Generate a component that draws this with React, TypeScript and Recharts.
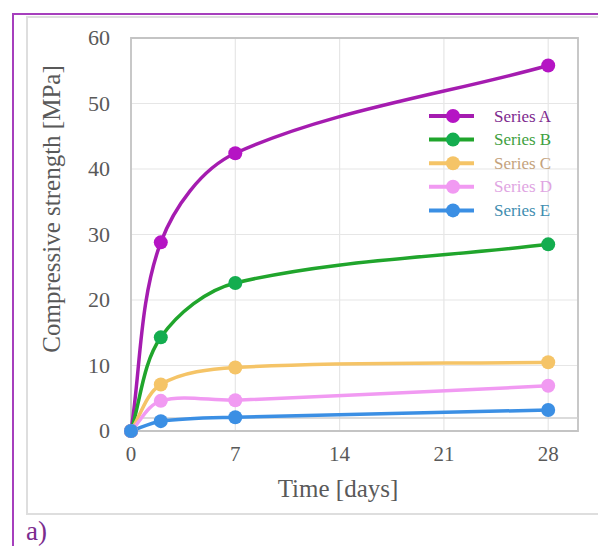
import React from 'react';
import {
  LineChart,
  Line,
  XAxis,
  YAxis,
  CartesianGrid,
  ReferenceArea,
  ReferenceLine,
} from 'recharts';

// curing time, days
const days = [0, 2, 7, 28];

// compressive strength, MPa
const seriesA = [0, 28.8, 42.4, 55.8];
const seriesB = [0, 14.3, 22.6, 28.5];
const seriesC = [0, 7.1, 9.7, 10.5];
const seriesD = [0, 4.6, 4.7, 6.9];
const seriesE = [0, 1.5, 2.1, 3.2];

const seriesNames = ['Series A', 'Series B', 'Series C', 'Series D', 'Series E'];
const xTicks = [0, 7, 14, 21, 28];
const yTicks = [0, 10, 20, 30, 40, 50, 60];

const lineColors = ['#a51cb0', '#20a52c', '#f5c467', '#f19af2', '#3b8fe4'];
const dotColors = ['#b514c4', '#14ad4f', '#f5c467', '#f19af2', '#3b8fe4'];
const textColors = ['#7e2a8e', '#3f9f3f', '#c4a27c', '#e0a5e2', '#3f8db0'];

const FONT = '"Liberation Serif", "Times New Roman", serif';

const allSeries = [seriesA, seriesB, seriesC, seriesD, seriesE];

const data = days.map((d, i) => {
  const row: Record<string, number> = { day: d };
  seriesNames.forEach((name, k) => {
    row[name] = allSeries[k][i];
  });
  return row;
});

// smoothed line like a spreadsheet: tangent from neighbours,
// handle length taken from the segment itself so no cusps appear
function smoothCurve(context: any) {
  let pts: number[][] = [];
  const tangent = (i: number) => {
    const a = pts[i - 1] || pts[i];
    const b = pts[i + 1] || pts[i];
    const dx = b[0] - a[0];
    const dy = b[1] - a[1];
    const len = Math.hypot(dx, dy) || 1;
    return [dx / len, dy / len];
  };
  return {
    areaStart() {},
    areaEnd() {},
    lineStart() {
      pts = [];
    },
    point(x: number, y: number) {
      pts.push([+x, +y]);
    },
    lineEnd() {
      if (!pts.length) return;
      context.moveTo(pts[0][0], pts[0][1]);
      for (let i = 0; i < pts.length - 1; i++) {
        const p1 = pts[i];
        const p2 = pts[i + 1];
        const h = Math.hypot(p2[0] - p1[0], p2[1] - p1[1]) * 0.32;
        const t1 = tangent(i);
        const t2 = tangent(i + 1);
        context.bezierCurveTo(
          p1[0] + t1[0] * h,
          p1[1] + t1[1] * h,
          p2[0] - t2[0] * h,
          p2[1] - t2[1] * h,
          p2[0],
          p2[1]
        );
      }
    },
  };
}

function LegendBox() {
  const rowH = 23.6;
  return (
    <svg width={160} height={rowH * seriesNames.length + 6}>
      {seriesNames.map((name, i) => {
        const cy = 12 + i * rowH;
        return (
          <g key={name}>
            <line x1={4} x2={49} y1={cy} y2={cy} stroke={lineColors[i]} strokeWidth={4} />
            <circle cx={28} cy={cy} r={7} fill={dotColors[i]} />
            <text
              x={69}
              y={cy}
              dy="0.33em"
              fontFamily={FONT}
              fontSize={17}
              fill={textColors[i]}
            >
              {name}
            </text>
          </g>
        );
      })}
    </svg>
  );
}

const XTick = (props: any) => {
  const { x, y, payload } = props;
  return (
    <text x={x} y={y + 22} textAnchor="middle" fontFamily={FONT} fontSize={21} fill="#595959">
      {payload.value}
    </text>
  );
};

const YTick = (props: any) => {
  const { x, y, payload } = props;
  return (
    <text x={x - 13} y={y + 7} textAnchor="end" fontFamily={FONT} fontSize={22} fill="#595959">
      {payload.value}
    </text>
  );
};

export default function App() {
  return (
    <div
      style={{
        position: 'absolute',
        left: 0,
        top: 0,
        width: 598,
        height: 546,
        overflow: 'hidden',
        background: '#ffffff',
        fontFamily: FONT,
      }}
    >
      <div
        style={{
          position: 'absolute',
          left: 12,
          top: 13,
          width: 700,
          height: 700,
          border: '2.5px solid #a63fbd',
        }}
      />
      <div
        style={{
          position: 'absolute',
          left: 26,
          top: 16,
          width: 700,
          height: 495,
          border: '2px solid #dedede',
        }}
      />
      <div
        style={{
          position: 'absolute',
          left: 26,
          top: 518,
          fontSize: 27,
          color: '#7b2d8e',
          lineHeight: '27px',
        }}
      >
        a)
      </div>
      <div style={{ position: 'absolute', left: 0, top: 0 }}>
        <LineChart
          width={598}
          height={546}
          data={data}
          margin={{ top: 38, right: 20, bottom: 85, left: 71 }}
          style={{ fontFamily: FONT }}
        >
          <CartesianGrid stroke="#e6e6e6" strokeWidth={1.2} />
          <XAxis
            dataKey="day"
            type="number"
            domain={[0, 30]}
            ticks={xTicks}
            height={30}
            axisLine={false}
            tickLine={false}
            tick={<XTick />}
            label={{
              content: () => (
                <text
                  x={338}
                  y={497}
                  textAnchor="middle"
                  fontFamily={FONT}
                  fontSize={25}
                  fill="#595959"
                >
                  Time [days]
                </text>
              ),
            }}
          />
          <YAxis
            type="number"
            domain={[0, 60]}
            ticks={yTicks}
            width={60}
            axisLine={false}
            tickLine={false}
            tick={<YTick />}
            label={{
              content: () => (
                <text
                  transform="translate(60, 209) rotate(-90)"
                  textAnchor="middle"
                  fontFamily={FONT}
                  fontSize={25}
                  fill="#595959"
                >
                  Compressive strength [MPa]
                </text>
              ),
            }}
          />
          <ReferenceLine y={2} stroke="#cfcfcf" strokeWidth={1.5} />
          <ReferenceArea
            x1={0}
            x2={30}
            y1={0}
            y2={60}
            fill="none"
            stroke="#c4c4c4"
            strokeWidth={1.8}
          />
          {seriesNames.map((name, i) => (
            <Line
              key={name}
              type={smoothCurve as any}
              dataKey={name}
              stroke={lineColors[i]}
              strokeWidth={3.5}
              dot={{ r: 7, fill: dotColors[i], stroke: dotColors[i], strokeWidth: 0 }}
              activeDot={false}
              isAnimationActive={false}
            />
          ))}
        </LineChart>
      </div>
      <div style={{ position: 'absolute', left: 425, top: 104 }}>
        <LegendBox />
      </div>
    </div>
  );
}
